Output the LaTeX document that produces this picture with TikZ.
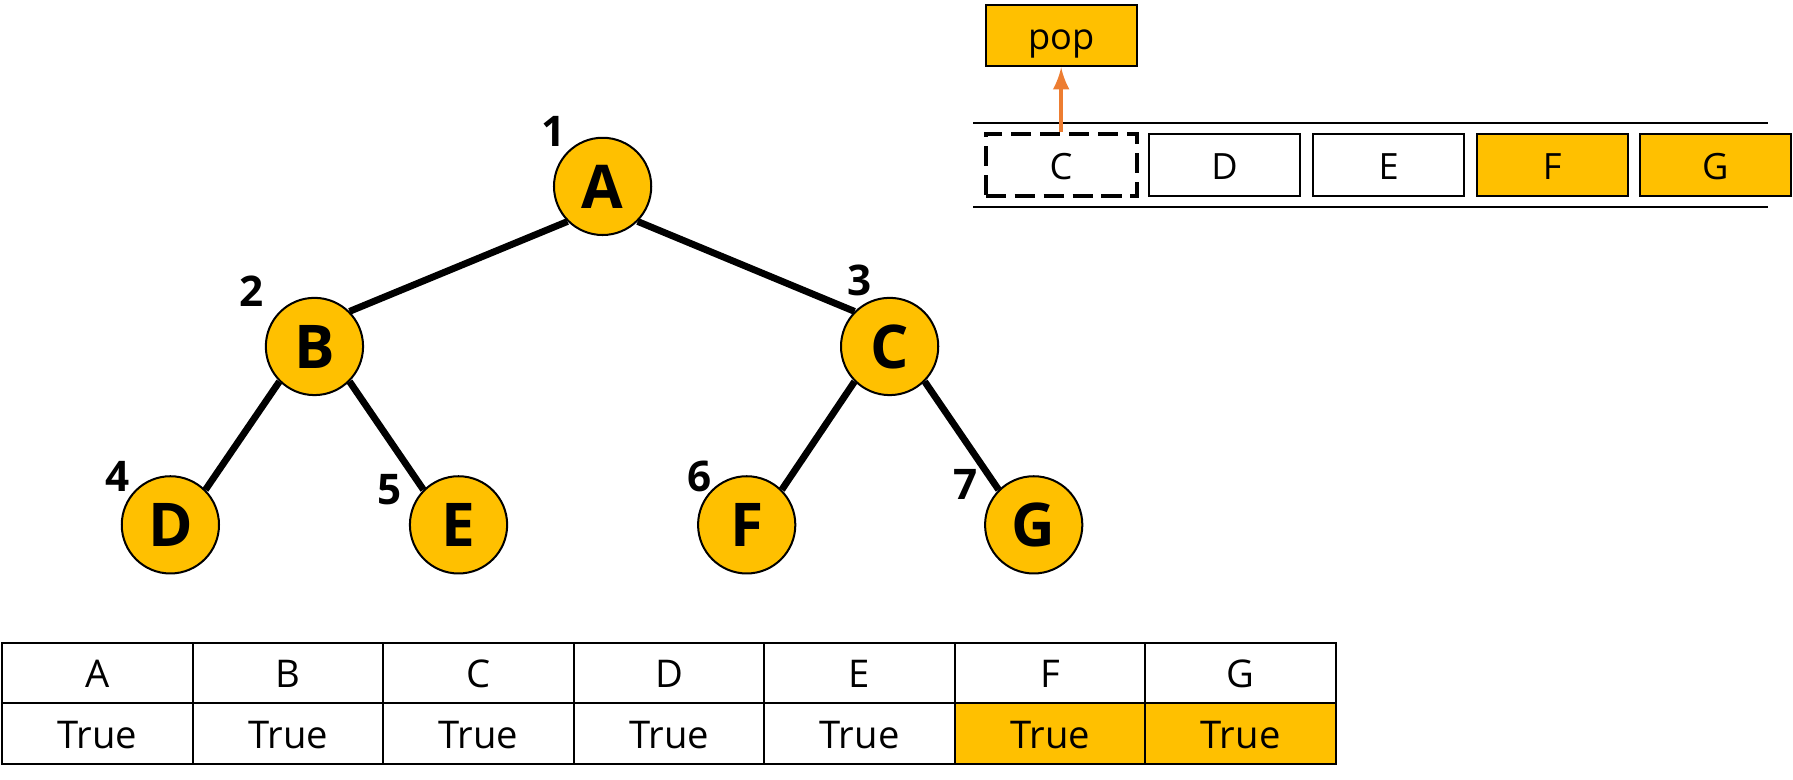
\documentclass[tikz,border=0pt]{standalone}
\usepackage{fontspec}
\setmainfont{Open Sans}
\definecolor{qyellow}{HTML}{FFC000}
\definecolor{qorange}{HTML}{ED7D31}
\begin{document}
\begin{tikzpicture}[x=0.01cm, y=-0.01cm, every node/.style={inner sep=0pt},
		vertex/.style={circle, draw, fill=qyellow, line width=0.5pt, minimum size=0.85cm,
		font=\bfseries\fontsize{15}{15}\selectfont},
		link/.style={line width=1.7pt},
		num/.style={font=\bfseries\fontsize{10.5}{10.5}\selectfont},
		cell/.style={draw, line width=0.5pt, minimum width=1.666cm, minimum height=0.53cm,
		text height=0.72em, text depth=0pt, font=\fontsize{9.5}{9.5}\selectfont},
		qbox/.style={draw, line width=0.5pt, minimum width=1.32cm, minimum height=0.54cm,
		text height=0.72em, text depth=0pt, font=\fontsize{9}{9}\selectfont} ]
				\useasboundingbox (0,0) rectangle (1568,682);
				% tree
				\foreach \n/\l/\x/\y in {a/A/527/163, b/B/275/303, c/C/778/303,
		d/D/149/459, e/E/401/459, f/F/653/459, g/G/904/459}{
		\node[vertex] (\n) at (\x,\y) {\l};
				}
				\foreach \p/\c/\s/\e in {a/b/south west/north east, a/c/south east/north west,
		b/d/south west/north east, b/e/south east/north west,
		c/f/south west/north east, c/g/south east/north west}{
		\draw[link] (\p.\s) -- (\c.\e);
				}
				\node[num] (n1) at (484,115) {1};
				\node[num] (n2) at (220,255) {2};
				\node[num] (n3) at (752,245) {3};
				\node[num] (n4) at (103,417) {4};
				\node[num] (n5) at (341,428) {5};
				\node[num] (n6) at (612,417) {6};
				\node[num] (n7) at (844,424) {7};
				% visited table
				\foreach \l/\f [count=\i] in {A/white,B/white,C/white,D/white,E/white,F/qyellow,G/qyellow}{
		\node[cell] (h\i) at ({2+166.6*(\i-0.5)},588.5) {\l};
		\node[cell, fill=\f] (v\i) at ({2+166.6*(\i-0.5)},641.5) {True};
				}
				% queue
				\draw[line width=0.5pt] (851,108) -- (1546,108);
				\draw[line width=0.5pt] (851,181) -- (1546,181);
				\node[qbox, line width=1pt, dash pattern=on 5pt off 2.2pt] (q1) at (928,144) {C};
				\foreach \l/\f/\x [count=\i from 2] in {D/white/1071,E/white/1214.5,F/qyellow/1357.5,G/qyellow/1500}{
		\node[qbox, fill=\f] (q\i) at (\x,144) {\l};
				}
				\node[qbox, fill=qyellow] (pop) at (928,31) {pop};
				\draw[qorange, line width=0.9pt, -latex] (q1.north) -- (pop.south);
			\end{tikzpicture}
\end{document}
